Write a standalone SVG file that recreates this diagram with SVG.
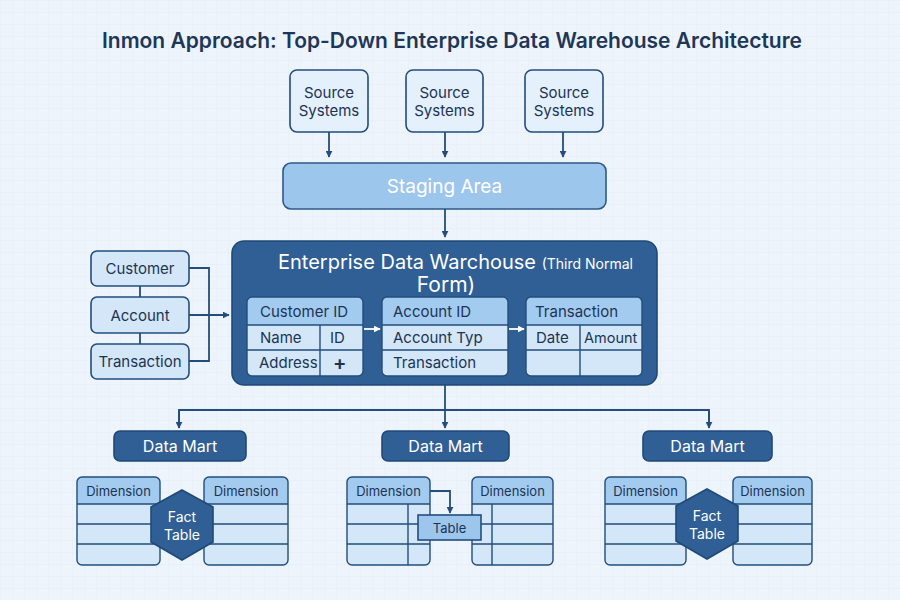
<svg xmlns="http://www.w3.org/2000/svg" width="900" height="600" viewBox="0 0 900 600">
<defs>
<pattern id="grid" width="12" height="12" patternUnits="userSpaceOnUse">
<path d="M12 0H0V12" fill="none" stroke="#dde8f4" stroke-width="0.6"/>
</pattern>
<marker id="ah" viewBox="0 0 10 10" refX="9" refY="5" markerWidth="7" markerHeight="7" markerUnits="userSpaceOnUse" orient="auto">
<path d="M0 0L10 5L0 10z" fill="#234d7c"/>
</marker>
<marker id="ahw" viewBox="0 0 10 10" refX="9" refY="5" markerWidth="7" markerHeight="7" markerUnits="userSpaceOnUse" orient="auto">
<path d="M0 0L10 5L0 10z" fill="#ffffff"/>
</marker>
<style>
text{font-family:"Inter","Noto Sans","Liberation Sans",sans-serif}
.src{fill:#e4f0fb;stroke:#234d7c;stroke-width:1.6}
.stage{fill:#9dc6ed;stroke:#2b5a8a;stroke-width:1.6}
.dark{fill:#2f5f95;stroke:#1f4a78;stroke-width:1.6}
.ent{fill:#d3e7f8;stroke:#234d7c;stroke-width:1.6}
.hdr{fill:#a3cbef}
.row{fill:#d3e7f8}
.tline{stroke:#234d7c;stroke-width:1.4;fill:none}
.conn{stroke:#234d7c;stroke-width:1.8;fill:none}
.t{font-size:15px;fill:#1c3454}
.ft{font-size:14px;fill:#ffffff}
</style>
</defs>
<rect width="900" height="600" fill="#eef4fb"/>
<rect width="900" height="600" fill="url(#grid)"/>
<text x="452" y="48" text-anchor="middle" font-size="21" font-weight="600" fill="#1e3758">Inmon Approach: Top-Down Enterprise Data Warehouse Architecture</text>

<g id="src1"><rect class="src" x="290" y="70" width="78" height="62" rx="7"/><text class="t" x="329" y="98" text-anchor="middle">Source</text><text class="t" x="329" y="116" text-anchor="middle">Systems</text></g>
<g id="src2"><rect class="src" x="406" y="70" width="77" height="62" rx="7"/><text class="t" x="444.5" y="98" text-anchor="middle">Source</text><text class="t" x="444.5" y="116" text-anchor="middle">Systems</text></g>
<g id="src3"><rect class="src" x="525" y="70" width="78" height="62" rx="7"/><text class="t" x="564" y="98" text-anchor="middle">Source</text><text class="t" x="564" y="116" text-anchor="middle">Systems</text></g>

<g id="staging"><rect class="stage" x="283" y="163" width="323" height="46" rx="8"/><text x="444.5" y="193" text-anchor="middle" font-size="19" fill="#ffffff">Staging Area</text></g>

<g id="customer"><rect class="ent" x="91" y="251" width="98" height="35" rx="6"/><text class="t" x="140" y="274" text-anchor="middle">Customer</text></g>
<g id="account"><rect class="ent" x="91" y="297" width="98" height="36" rx="6"/><text class="t" x="140" y="321" text-anchor="middle">Account</text></g>
<g id="transaction"><rect class="ent" x="91" y="344" width="98" height="35" rx="6"/><text class="t" x="140" y="367" text-anchor="middle">Transaction</text></g>

<g id="edw">
<rect class="dark" x="232" y="241" width="425" height="144" rx="12"/>
<text x="278" y="269" font-size="20" fill="#ffffff">Enterprise Data Warchouse <tspan font-size="14">(Third Normal</tspan></text>
<text x="446" y="292" text-anchor="middle" font-size="21" fill="#ffffff">Form)</text>
<g id="tbl-customer">
<rect x="247" y="297" width="116" height="79" rx="5" class="row"/>
<path d="M252 297H358Q363 297 363 302V325H247V302Q247 297 252 297Z" class="hdr"/>
<rect x="247" y="297" width="116" height="79" rx="5" class="tline"/>
<path d="M247 325H363M247 350H363M320 325V376" class="tline"/>
<text class="t" x="260" y="317">Customer ID</text>
<text class="t" x="260" y="343">Name</text><text class="t" x="330" y="343">ID</text>
<text class="t" x="259" y="368">Address</text><text x="333" y="370" font-size="20" font-weight="600" fill="#1c3454">+</text>
</g>
<g id="tbl-account">
<rect x="382" y="297" width="126" height="79" rx="5" class="row"/>
<path d="M387 297H503Q508 297 508 302V325H382V302Q382 297 387 297Z" class="hdr"/>
<rect x="382" y="297" width="126" height="79" rx="5" class="tline"/>
<path d="M382 325H508M382 350H508" class="tline"/>
<text class="t" x="393" y="317">Account ID</text>
<text class="t" x="393" y="343">Account Typ</text>
<text class="t" x="393" y="368">Transaction</text>
</g>
<g id="tbl-transaction">
<rect x="526" y="297" width="116" height="79" rx="5" class="row"/>
<path d="M531 297H637Q642 297 642 302V325H526V302Q526 297 531 297Z" class="hdr"/>
<rect x="526" y="297" width="116" height="79" rx="5" class="tline"/>
<path d="M526 325H642M526 350H642M580 325V376" class="tline"/>
<text class="t" x="535" y="317">Transaction</text>
<text class="t" x="536" y="343">Date</text><text x="584" y="343" font-size="14.5" fill="#1c3454">Amount</text>
</g>
<path d="M364 329H380" stroke="#ffffff" stroke-width="1.8" marker-end="url(#ahw)"/>
<path d="M509 329H524" stroke="#ffffff" stroke-width="1.8" marker-end="url(#ahw)"/>
</g>

<g id="dm1"><rect class="dark" x="114" y="431" width="132" height="30" rx="6"/><text x="180" y="452" text-anchor="middle" font-size="16" fill="#ffffff">Data Mart</text></g>
<g id="dm2"><rect class="dark" x="382" y="431" width="127" height="30" rx="6"/><text x="445.5" y="452" text-anchor="middle" font-size="16" fill="#ffffff">Data Mart</text></g>
<g id="dm3"><rect class="dark" x="643" y="431" width="129" height="30" rx="6"/><text x="707.5" y="452" text-anchor="middle" font-size="16" fill="#ffffff">Data Mart</text></g>

<g id="dim1a">
<rect x="77" y="477" width="83" height="88" rx="5" class="row"/>
<path d="M82 477H155Q160 477 160 482V504H77V482Q77 477 82 477Z" class="hdr"/>
<rect x="77" y="477" width="83" height="88" rx="5" class="tline"/>
<path d="M77 504H160M77 524H160M77 544H160" class="tline"/>
<text x="118.5" y="496" text-anchor="middle" font-size="13" fill="#1c3454">Dimension</text>
</g>
<g id="dim1b">
<rect x="204" y="477" width="84" height="88" rx="5" class="row"/>
<path d="M209 477H283Q288 477 288 482V504H204V482Q204 477 209 477Z" class="hdr"/>
<rect x="204" y="477" width="84" height="88" rx="5" class="tline"/>
<path d="M204 504H288M204 524H288M204 544H288" class="tline"/>
<text x="246" y="496" text-anchor="middle" font-size="13" fill="#1c3454">Dimension</text>
</g>
<g id="fact1">
<polygon points="182,490 213,507 213,542 182,560 151,542 151,507" class="dark"/>
<text class="ft" x="182" y="522" text-anchor="middle">Fact</text>
<text class="ft" x="182" y="540" text-anchor="middle">Table</text>
</g>

<g id="dim2a">
<rect x="347" y="477" width="83" height="88" rx="5" class="row"/>
<path d="M352 477H425Q430 477 430 482V504H347V482Q347 477 352 477Z" class="hdr"/>
<rect x="347" y="477" width="83" height="88" rx="5" class="tline"/>
<path d="M347 504H430M347 524H430M347 544H430M408 504V565" class="tline"/>
<text x="388.5" y="496" text-anchor="middle" font-size="13" fill="#1c3454">Dimension</text>
</g>
<g id="dim2b">
<rect x="472" y="477" width="81" height="88" rx="5" class="row"/>
<path d="M477 477H548Q553 477 553 482V504H472V482Q472 477 477 477Z" class="hdr"/>
<rect x="472" y="477" width="81" height="88" rx="5" class="tline"/>
<path d="M472 504H553M472 524H553M472 544H553M492 504V565" class="tline"/>
<text x="512.5" y="496" text-anchor="middle" font-size="13" fill="#1c3454">Dimension</text>
</g>
<g id="table2">
<rect x="418" y="515" width="63" height="25" fill="#9dc6ed" stroke="#234d7c" stroke-width="1.6"/>
<text x="449.5" y="533" text-anchor="middle" font-size="13" fill="#1c3454">Table</text>
</g>

<g id="dim3a">
<rect x="605" y="477" width="81" height="88" rx="5" class="row"/>
<path d="M610 477H681Q686 477 686 482V504H605V482Q605 477 610 477Z" class="hdr"/>
<rect x="605" y="477" width="81" height="88" rx="5" class="tline"/>
<path d="M605 504H686M605 524H686M605 544H686" class="tline"/>
<text x="645.5" y="496" text-anchor="middle" font-size="13" fill="#1c3454">Dimension</text>
</g>
<g id="dim3b">
<rect x="733" y="477" width="79" height="88" rx="5" class="row"/>
<path d="M738 477H807Q812 477 812 482V504H733V482Q733 477 738 477Z" class="hdr"/>
<rect x="733" y="477" width="79" height="88" rx="5" class="tline"/>
<path d="M733 504H812M733 524H812M733 544H812" class="tline"/>
<text x="772.5" y="496" text-anchor="middle" font-size="13" fill="#1c3454">Dimension</text>
</g>
<g id="fact3">
<polygon points="707,489 738,506 738,541 707,559 676,541 676,506" class="dark"/>
<text class="ft" x="707" y="521" text-anchor="middle">Fact</text>
<text class="ft" x="707" y="539" text-anchor="middle">Table</text>
</g>

<g id="connectors">
<path class="conn" d="M329 132V157" marker-end="url(#ah)"/>
<path class="conn" d="M445 132V157" marker-end="url(#ah)"/>
<path class="conn" d="M563 132V157" marker-end="url(#ah)"/>
<path class="conn" d="M445 209V237" marker-end="url(#ah)"/>
<path class="conn" d="M140 286V297M140 333V344"/>
<path class="conn" d="M189 268H209V361H189"/>
<path class="conn" d="M189 315H229" marker-end="url(#ah)"/>
<path class="conn" d="M445 385V428" marker-end="url(#ah)"/>
<path class="conn" d="M179 428V410H709V428" />
<path class="conn" d="M179 411V428" marker-end="url(#ah)"/>
<path class="conn" d="M709 411V428" marker-end="url(#ah)"/>
<path class="conn" d="M430 491H450V513" marker-end="url(#ah)"/>
</g>
</svg>
